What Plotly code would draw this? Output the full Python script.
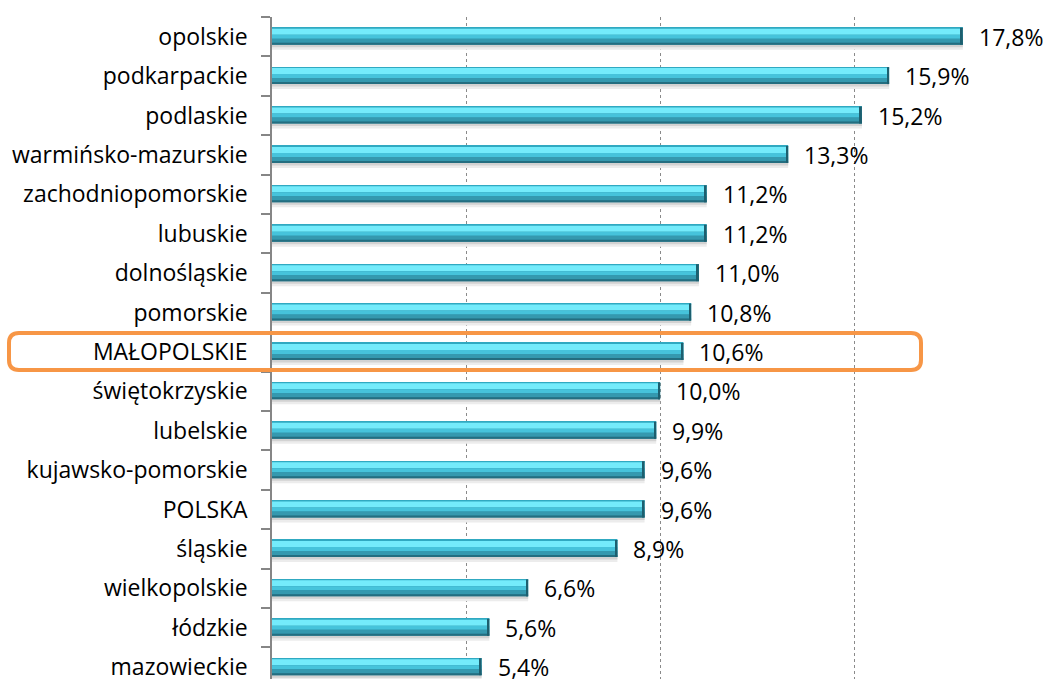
import plotly.graph_objects as go

categories = ["opolskie", "podkarpackie", "podlaskie", "warmińsko-mazurskie",
              "zachodniopomorskie", "lubuskie", "dolnośląskie", "pomorskie",
              "MAŁOPOLSKIE", "świętokrzyskie", "lubelskie", "kujawsko-pomorskie",
              "POLSKA", "śląskie", "wielkopolskie", "łódzkie", "mazowieckie"]
values = [17.8, 15.9, 15.2, 13.3, 11.2, 11.2, 11.0, 10.8, 10.6, 10.0, 9.9, 9.6,
          9.6, 8.9, 6.6, 5.6, 5.4]
value_labels = ["17,8%", "15,9%", "15,2%", "13,3%", "11,2%", "11,2%", "11,0%", "10,8%",
                "10,6%", "10,0%", "9,9%", "9,6%", "9,6%", "8,9%", "6,6%", "5,6%", "5,4%"]
highlight = "MAŁOPOLSKIE"

W, H = 1049, 679
ML, MT = 272, 17
PW, PH = W - ML, H - MT
Y_RANGE = [16.3, -0.5]
CAT_PX = PH / (Y_RANGE[0] - Y_RANGE[1])
FONT = "Open Sans"

fig = go.Figure()

# (top px, bottom px relative to category centre, colour)
layers = [
    (6, 13, "#ececec"),
    (6, 10.5, "#d2d2d2"),
    (-9, 8, "#2c8ea4"),
    (-9, -8, "#30a9c1"),
    (-8, -2, "#74ebfb"),
    (-2, 2, "#46c3db"),
    (2, 6, "#3599af"),
    (6, 8, "#246e80"),
]
for top, bot, col in layers:
    fig.add_trace(go.Bar(
        y=categories, x=values, orientation="h",
        offset=top / CAT_PX, width=(bot - top) / CAT_PX,
        marker=dict(color=col, line=dict(width=0)),
        hoverinfo="skip", showlegend=False))

# dark right edge of each bar
cap = 0.05
fig.add_trace(go.Bar(
    y=categories, x=[cap] * len(values), base=[v - cap for v in values],
    orientation="h", offset=-9 / CAT_PX, width=17 / CAT_PX,
    marker=dict(color="#1d5f6f", line=dict(width=0)),
    hoverinfo="skip", showlegend=False))

for c, v, t in zip(categories, values, value_labels):
    fig.add_annotation(x=v, y=c, text=t, showarrow=False, xanchor="left",
                       xshift=14, font=dict(family=FONT, size=23, color="#000000"))

# rounded highlight box (pixel geometry -> paper coords)
def px(x):
    return (x - ML) / PW
def py(y):
    return (H - y) / PH

idx = categories.index(highlight)
cy = MT + (idx - Y_RANGE[1]) * CAT_PX
x0, x1 = 9, 921
y0, y1 = cy - 19, cy + 18
r = 10
path = (f"M {px(x0 + r)},{py(y0)} L {px(x1 - r)},{py(y0)} "
        f"Q {px(x1)},{py(y0)} {px(x1)},{py(y0 + r)} L {px(x1)},{py(y1 - r)} "
        f"Q {px(x1)},{py(y1)} {px(x1 - r)},{py(y1)} L {px(x0 + r)},{py(y1)} "
        f"Q {px(x0)},{py(y1)} {px(x0)},{py(y1 - r)} L {px(x0)},{py(y0 + r)} "
        f"Q {px(x0)},{py(y0)} {px(x0 + r)},{py(y0)} Z")
fig.add_shape(type="path", path=path, xref="paper", yref="paper",
              line=dict(color="#f79646", width=4), layer="above")

fig.update_layout(
    width=W, height=H,
    margin=dict(l=ML, r=0, t=MT, b=0, pad=0),
    barmode="overlay",
    plot_bgcolor="white", paper_bgcolor="white",
    font=dict(family=FONT, size=23, color="#000000"),
    xaxis=dict(range=[0, 20.02], showticklabels=False, ticks="",
               showgrid=True, gridcolor="#8a8a8a", griddash="dot", gridwidth=1,
               dtick=5, tick0=0, zeroline=False, showline=False, fixedrange=True),
    yaxis=dict(type="category", categoryorder="array", categoryarray=categories,
               range=Y_RANGE, showline=True, linecolor="#868686", linewidth=1.5,
               ticks="outside", ticklen=9, tickcolor="#868686", tickwidth=1.5,
               tickson="boundaries", showgrid=False, automargin=False,
               ticklabelstandoff=18, fixedrange=True),
)

fig.write_html("out.html", config={"displayModeBar": False},
               post_script="document.body.style.margin='0';")
